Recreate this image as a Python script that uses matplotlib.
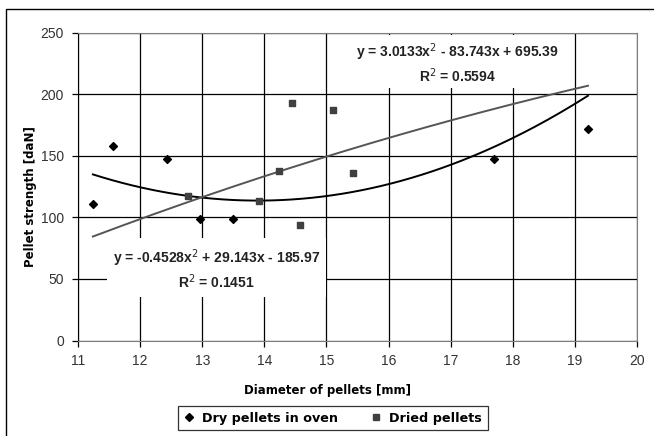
import numpy as np
import matplotlib.pyplot as plt
from matplotlib.patches import Rectangle
from matplotlib.lines import Line2D

# Dry pellets in oven
oven_d = [11.24, 11.57, 12.44, 12.96, 13.49, 17.70, 19.21]
oven_s = [110.7, 157.7, 147.4, 98.5, 98.5, 147.4, 171.3]

# Dried pellets
dried_d = [12.77, 13.92, 14.24, 14.44, 14.58, 15.10, 15.42]
dried_s = [116.9, 113.6, 137.8, 192.5, 93.8, 187.0, 136.2]

# polynomial trend lines (highest power first)
oven_fit = [3.0133, -83.743, 695.39]
oven_r2 = 0.5594
dried_fit = [-0.4528, 29.143, -185.97]
dried_r2 = 0.1451

fig = plt.figure(figsize=(6.54, 4.36), dpi=100)
ax = fig.add_axes([78 / 654, 1 - 340.5 / 436, (637 - 78) / 654, (340.5 - 32.5) / 436])

# outer chart frame
fig.patches.append(Rectangle((6 / 654, -0.05), 1.1, 1 - 9 / 436 + 0.05,
                             transform=fig.transFigure, fill=False,
                             edgecolor='black', linewidth=1.0, zorder=0))

ax.set_xlim(11, 20)
ax.set_ylim(0, 250)
ax.set_xticks(np.arange(11, 21, 1))
ax.set_yticks(np.arange(0, 251, 50))
ax.grid(True, color='black', linewidth=0.9)
ax.set_axisbelow(True)

for side in ['top', 'right', 'bottom']:
    ax.spines[side].set_color('#808080')
ax.spines['left'].set_color('black')
ax.tick_params(direction='out', length=4, width=0.9, colors='black',
               labelcolor='#333333', labelsize=10, pad=6)
for lab in ax.get_xticklabels() + ax.get_yticklabels():
    lab.set_family('Liberation Sans')

# trend lines over the whole diameter range
lo = min(oven_d + dried_d)
hi = max(oven_d + dried_d)
xs = np.linspace(lo, hi, 200)
ax.plot(xs, np.polyval(oven_fit, xs), color='black', linewidth=1.4, zorder=6)
ax.plot(xs, np.polyval(dried_fit, xs), color='#555555', linewidth=1.4, zorder=6)

ax.scatter(oven_d, oven_s, marker='D', s=16, color='black', zorder=7)
ax.scatter(dried_d, dried_s, marker='s', s=22, color='#404040', zorder=7)


def fmt_eq(c):
    a, b, k = c
    sb = '+' if b >= 0 else '-'
    sk = '+' if k >= 0 else '-'
    return f'y = {a:.4f}x$^2$ {sb} {abs(b):.3f}x {sk} {abs(k):.2f}'


box = dict(facecolor='white', edgecolor='none', pad=2)
ax.text(17.10, 225, fmt_eq(oven_fit) + f'\nR$^2$ = {oven_r2:.4f}',
        ha='center', va='center', fontsize=10, fontweight='bold',
        family='Liberation Sans', color='#222222', linespacing=1.25,
        bbox=box, zorder=5)
ax.text(13.23, 58, fmt_eq(dried_fit) + f'\nR$^2$ = {dried_r2:.4f}',
        ha='center', va='center', fontsize=10, fontweight='bold',
        family='Liberation Sans', color='#222222', linespacing=1.25,
        bbox=dict(facecolor='white', edgecolor='none', pad=4), zorder=5)

fig.text(327 / 654, 1 - 390 / 436, 'Diameter of pellets [mm]',
         ha='center', va='center', fontsize=8.5, fontweight='bold')
fig.text(31 / 654, 1 - 197 / 436, 'Pellet strength [daN]', rotation=90,
         ha='center', va='center', fontsize=8.5, fontweight='bold')

handles = [Line2D([], [], marker='D', markersize=4, color='black', linestyle='none'),
           Line2D([], [], marker='s', markersize=4, color='#404040', linestyle='none')]
leg = fig.legend(handles, ['Dry pellets in oven', 'Dried pellets'],
                 loc='center', bbox_to_anchor=(333 / 654, 1 - 418 / 436),
                 ncol=2, frameon=True, fancybox=False, handlelength=0.8,
                 handletextpad=0.6, columnspacing=2.6, borderpad=0.45,
                 borderaxespad=0, prop={'weight': 'bold', 'size': 9.2})
leg.get_frame().set_edgecolor('black')
leg.get_frame().set_linewidth(0.9)

fig.savefig('out.png', dpi=100)
